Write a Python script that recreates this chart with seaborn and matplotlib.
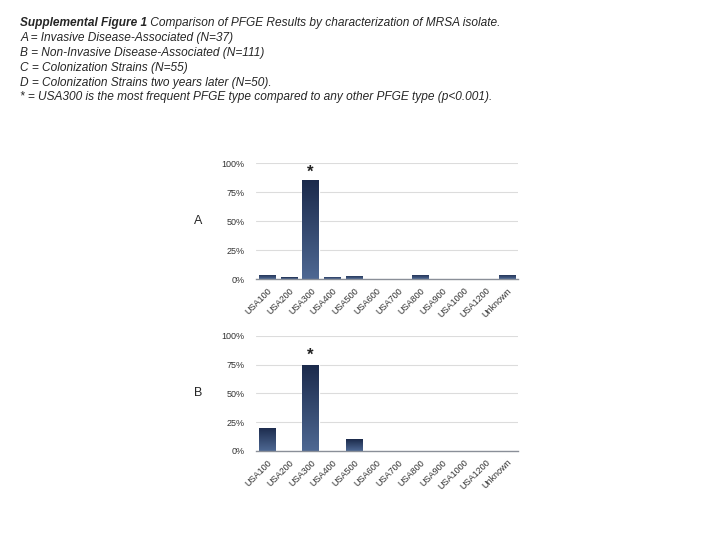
import numpy as np
import pandas as pd
import matplotlib
matplotlib.use('Agg')
import matplotlib.pyplot as plt
import seaborn as sns
from matplotlib.colors import LinearSegmentedColormap

types = ['USA100', 'USA200', 'USA300', 'USA400', 'USA500', 'USA600',
         'USA700', 'USA800', 'USA900', 'USA1000', 'USA1200', 'Unknown']
pct_a = [4, 1.5, 85, 2.3, 3, 0, 0, 4, 0, 0, 0, 4]
pct_b = [20, 0, 75, 0, 10, 0, 0, 0, 0, 0, 0, 0]
yticks = [0, 25, 50, 75, 100]
ytick_labels = ['0%', '25%', '50%', '75%', '100%']

caption = [
    ('Supplemental Figure 1', ' Comparison of PFGE Results by characterization of MRSA isolate.'),
    ('', 'A = Invasive Disease-Associated (N=37)'),
    ('', 'B = Non-Invasive Disease-Associated (N=111)'),
    ('', 'C = Colonization Strains (N=55)'),
    ('', 'D = Colonization Strains two years later (N=50).'),
    ('', '* = USA300 is the most frequent PFGE type compared to any other PFGE type (p<0.001).'),
]

sns.set_style('white')
plt.rcParams['font.family'] = ['Liberation Sans', 'DejaVu Sans']

fig = plt.figure(figsize=(7.2, 5.4), dpi=100)

# caption block
y0 = 0.957
for i, (bold, rest) in enumerate(caption):
    y = y0 - i * 0.0275
    if bold:
        t = fig.text(0.028, y, bold, fontsize=8.6, fontstyle='italic', fontweight='bold', va='center')
        fig.canvas.draw()
        bb = t.get_window_extent()
        x2 = bb.x1 / fig.bbox.width
        fig.text(x2, y, rest, fontsize=8.6, fontstyle='italic', va='center')
    else:
        fig.text(0.028, y, rest, fontsize=8.6, fontstyle='italic', va='center')

grad_cmap = LinearSegmentedColormap.from_list('bar', ['#4e6893', '#1b2a4b'])
grad = np.linspace(0, 1, 256).reshape(-1, 1)


def draw_panel(rect, values, letter, star_y):
    ax = fig.add_axes(rect)
    df = pd.DataFrame({'type': types, 'pct': values})
    sns.barplot(data=df, x='type', y='pct', color='#34496f', width=0.75, ax=ax)
    # gradient fill clipped to each bar
    for p in ax.patches:
        h = p.get_height()
        if h <= 0:
            continue
        x = p.get_x()
        w = p.get_width()
        im = ax.imshow(grad, cmap=grad_cmap, aspect='auto', origin='lower',
                       extent=[x, x + w, 0, h], zorder=p.get_zorder() + 0.1)
        im.set_clip_path(p)
    ax.set_xlim(-0.5, len(types) - 0.5)
    ax.set_ylim(0, 100)
    ax.set_yticks(yticks)
    ax.set_yticklabels(ytick_labels, fontsize=6.5, color='#333333')
    ax.set_xticks(range(len(types)))
    ax.set_xticklabels(types, rotation=45, ha='right', rotation_mode='anchor',
                       fontsize=6.5, color='#333333')
    ax.tick_params(axis='y', length=0, pad=8)
    ax.tick_params(axis='x', length=0, pad=5)
    ax.grid(axis='y', color='#dcdcdc', linewidth=0.8)
    ax.set_axisbelow(True)
    for s in ['top', 'right', 'left']:
        ax.spines[s].set_visible(False)
    ax.spines['bottom'].set_color('#8a8f98')
    ax.spines['bottom'].set_linewidth(1.0)
    ax.set_xlabel('')
    ax.set_ylabel('')
    ax.text(types.index('USA300'), star_y, '*', ha='center', va='center',
            fontsize=12, fontweight='bold', color='#222222')
    fig.text(0.275, rect[1] + rect[3] * 0.5, letter, fontsize=9, va='center', ha='center')
    return ax


draw_panel([0.3556, 0.483, 0.364, 0.215], pct_a, 'A', 92)
draw_panel([0.3556, 0.165, 0.364, 0.213], pct_b, 'B', 83)

plt.savefig('out.png', dpi=100)
